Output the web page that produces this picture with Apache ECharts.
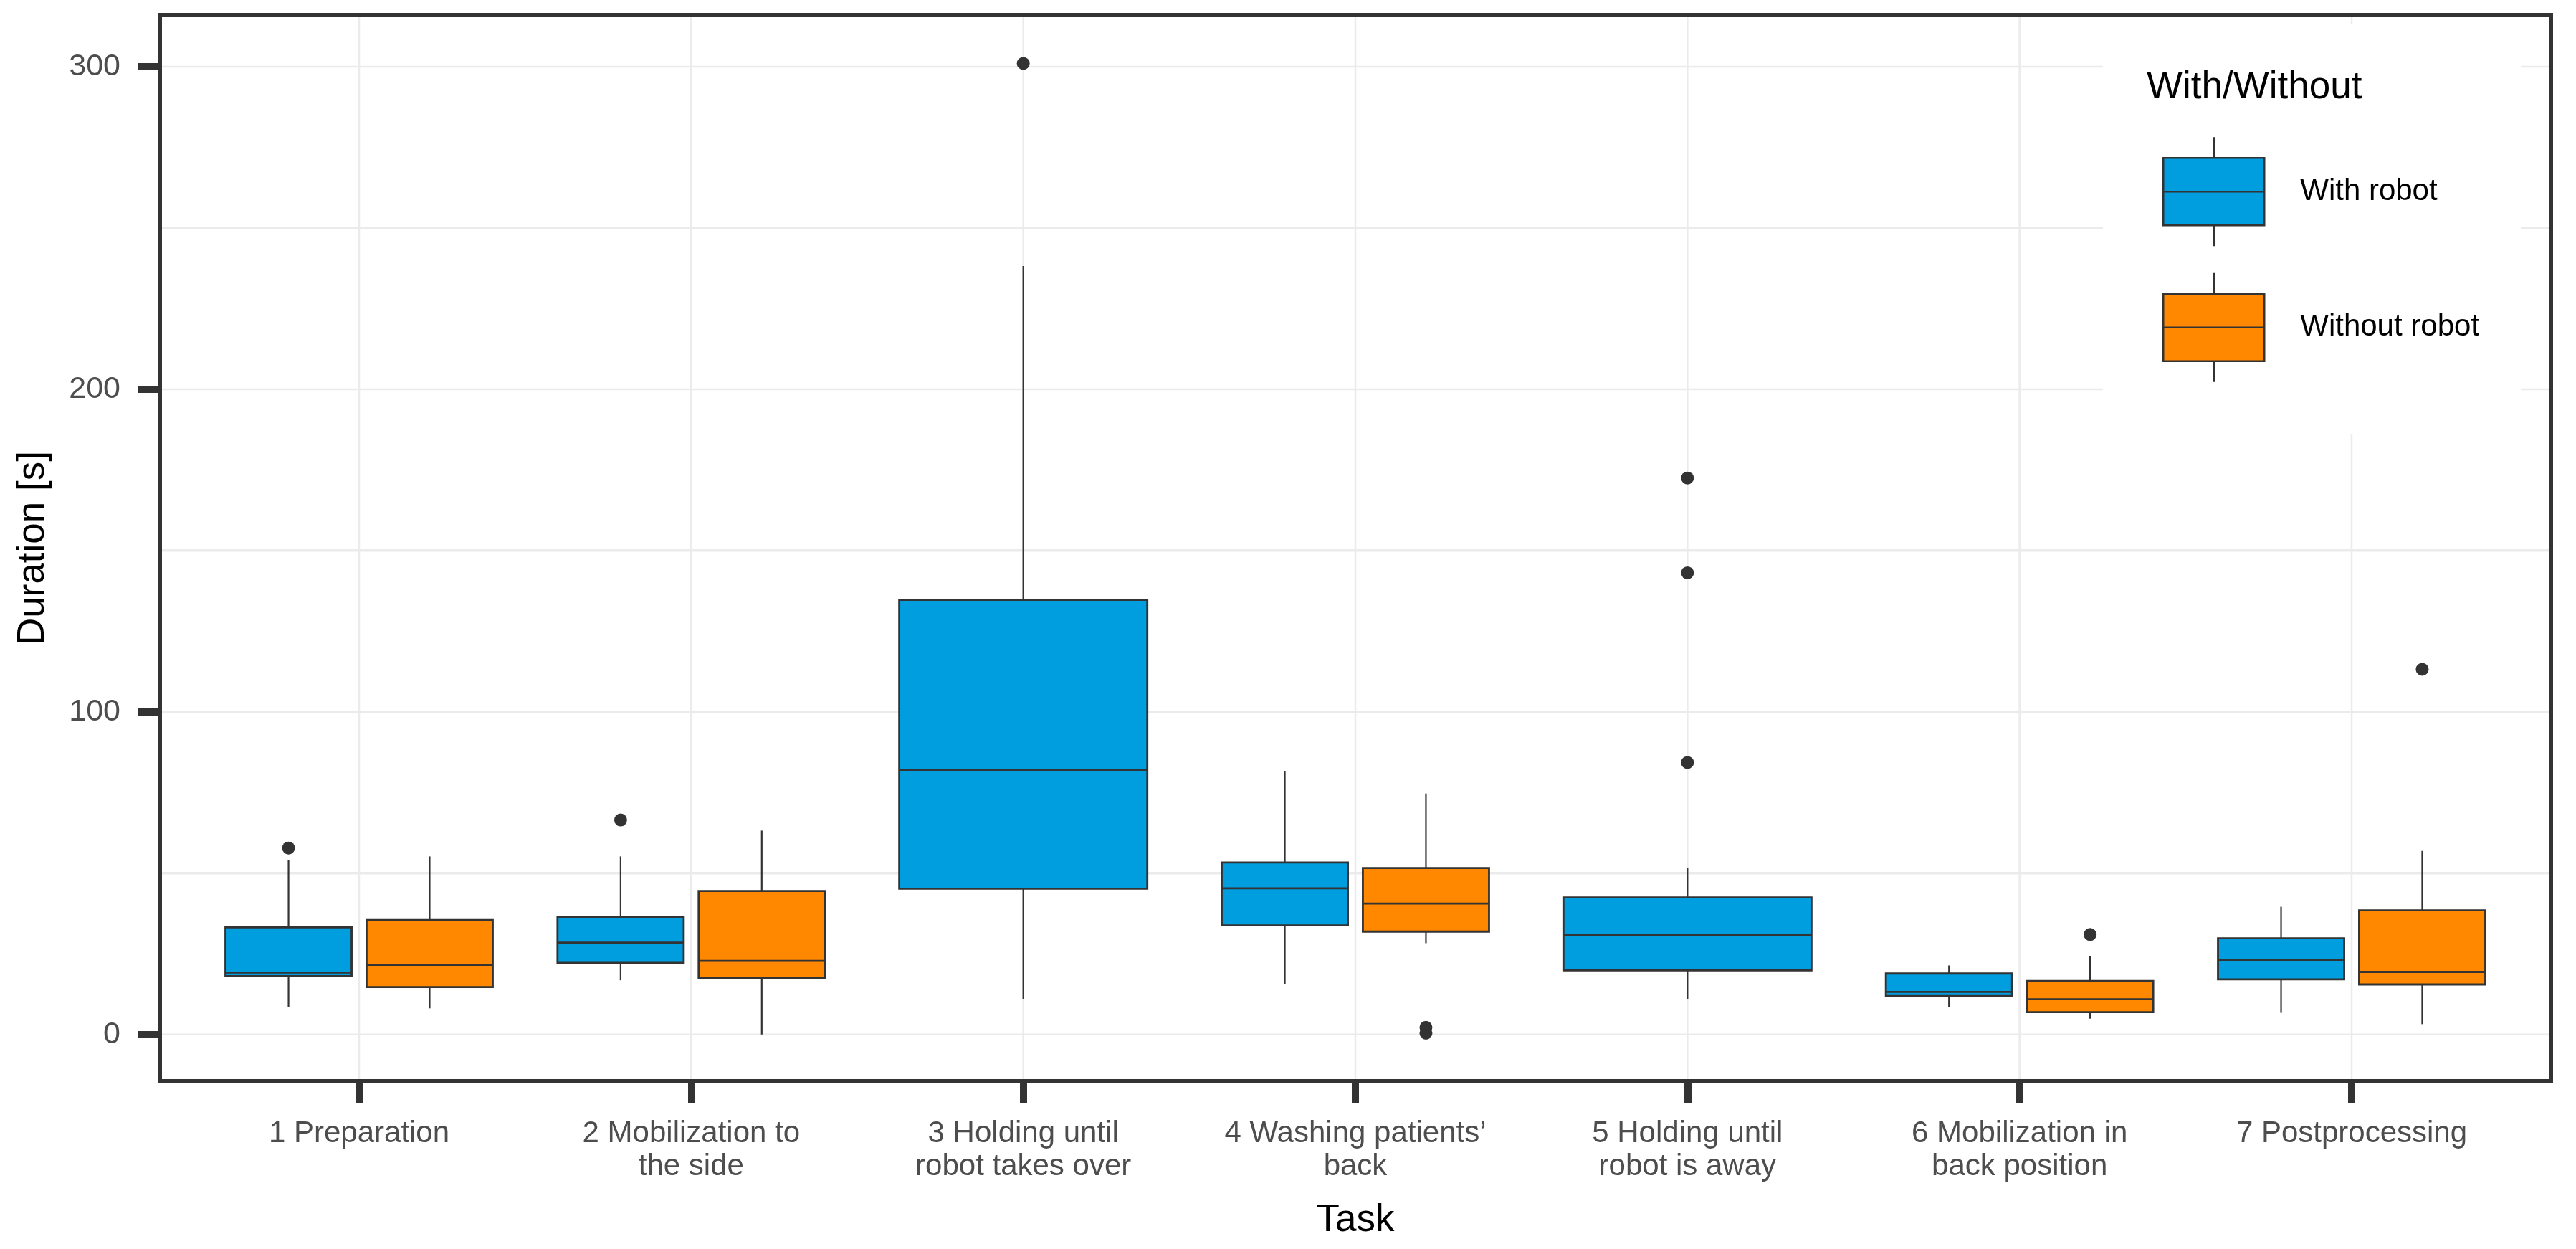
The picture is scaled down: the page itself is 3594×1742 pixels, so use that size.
<!DOCTYPE html>
<html>
<head>
<meta charset="utf-8">
<script src="https://cdn.jsdelivr.net/npm/echarts@6.0.0/dist/echarts.min.js"></script>
<style>
html,body{margin:0;padding:0;background:#fff;}
#chart{width:3594px;height:1742px;}
</style>
</head>
<body>
<div id="chart"></div>
<script>
// ---- data ----
const tasks = ['1 Preparation', '2 Mobilization to\nthe side', '3 Holding until\nrobot takes over',
  '4 Washing patients’\nback', '5 Holding until\nrobot is away', '6 Mobilization in\nback position', '7 Postprocessing'];
const groups = ['With robot', 'Without robot'];
// [lower whisker, Q1, median, Q3, upper whisker]
const withRobot = [
  [8.6, 18.1, 19.2, 33.2, 54.0],
  [16.8, 22.2, 28.5, 36.5, 55.2],
  [11.0, 45.2, 82.0, 134.7, 238.2],
  [15.6, 33.8, 45.3, 53.3, 81.7],
  [11.0, 19.9, 30.8, 42.5, 51.6],
  [8.4, 11.9, 13.2, 18.9, 21.4],
  [6.7, 17.1, 23.0, 29.8, 39.6]
];
const withoutRobot = [
  [8.1, 14.7, 21.6, 35.5, 55.2],
  [0.0, 17.6, 22.8, 44.5, 63.2],
  null,
  [28.3, 31.9, 40.6, 51.6, 74.7],
  null,
  [4.9, 6.9, 10.9, 16.6, 24.2],
  [3.2, 15.5, 19.4, 38.5, 56.9]
];
const withOutliers = [[57.8], [66.5], [301], [], [84.3, 143.1, 172.5], [], []];
const withoutOutliers = [[], [], [], [0.4, 2.2], [], [31.0], [113.2]];
const yTicks = [0, 100, 200, 300];
const yMinor = [50, 150, 250];
const xTicks = [1, 2, 3, 4, 5, 6, 7];

// ---- styling ----
const colors = ['#009ddf', '#ff8800'];
const lineCol = '#333333';
const gridCol = '#ebebeb';

const statsByGroup = [withRobot, withoutRobot];
const outByGroup = [withOutliers, withoutOutliers];

function boxRender(g) {
  return function (params, api) {
    const task = api.value(0);
    const i = task - 1;
    const s = statsByGroup[g][i];
    const paired = withRobot[i] && withoutRobot[i];
    const unit = api.size([1, 0])[0];
    const w = (paired ? 0.38 : 0.747) * unit;
    const off = paired ? (g === 0 ? -0.2125 : 0.2125) : 0;
    const cx = api.coord([task + off, 0])[0];
    const y = s.map(v => api.coord([task, v])[1]);
    const children = [];
    children.push({type: 'line', shape: {x1: cx, y1: y[3], x2: cx, y2: y[4]}, style: {stroke: lineCol, lineWidth: 2.2}});
    children.push({type: 'line', shape: {x1: cx, y1: y[1], x2: cx, y2: y[0]}, style: {stroke: lineCol, lineWidth: 2.2}});
    children.push({type: 'rect', shape: {x: cx - w / 2, y: y[3], width: w, height: y[1] - y[3]},
      style: {fill: colors[g], stroke: lineCol, lineWidth: 2.8}});
    children.push({type: 'line', shape: {x1: cx - w / 2, y1: y[2], x2: cx + w / 2, y2: y[2]}, style: {stroke: lineCol, lineWidth: 2.8}});
    outByGroup[g][i].forEach(v => {
      const p = api.coord([task + off, v]);
      children.push({type: 'circle', shape: {cx: cx, cy: p[1], r: 9}, style: {fill: lineCol}});
    });
    return {type: 'group', children: children};
  };
}

function gridRender(isMajor, horizontal) {
  return function (params, api) {
    const cs = params.coordSys;
    const v = api.value(0);
    if (horizontal) {
      const py = api.coord([1, v])[1];
      return {type: 'line', shape: {x1: cs.x, y1: py, x2: cs.x + cs.width, y2: py},
        style: {stroke: gridCol, lineWidth: isMajor ? 2.5 : 3.5}};
    } else {
      const px = api.coord([v, 0])[0];
      return {type: 'line', shape: {x1: px, y1: cs.y, x2: px, y2: cs.y + cs.height},
        style: {stroke: gridCol, lineWidth: 2.5}};
    }
  };
}

const iconPath = 'path://M70.5 0L70.5 29M0 29L141 29L141 123L0 123ZM0 76L141 76M70.5 123L70.5 152';

const chart = echarts.init(document.getElementById('chart'), null, {renderer: 'canvas'});
chart.setOption({
  animation: false,
  backgroundColor: '#ffffff',
  textStyle: {fontFamily: 'Liberation Sans, Arial, sans-serif'},
  grid: {left: 223, right: 35, top: 21, bottom: 234, show: true, borderColor: lineCol, borderWidth: 6, backgroundColor: 'transparent', z: 3},
  title: {
    text: 'With/Without', left: 2995, top: 96, padding: 0,
    textStyle: {fontSize: 53, fontWeight: 'normal', color: '#000', fontFamily: 'Liberation Sans, Arial, sans-serif'}
  },
  legend: {
    orient: 'vertical', left: 2934, top: 34,
    padding: [156, 58, 71, 83],
    backgroundColor: '#ffffff',
    itemWidth: 141, itemHeight: 152, itemGap: 35,
    selectedMode: false,
    textStyle: {fontSize: 42, color: '#000', padding: [0, 0, 0, 45], fontFamily: 'Liberation Sans, Arial, sans-serif'},
    data: groups.map((n, g) => ({
      name: n, icon: iconPath,
      itemStyle: {color: colors[g], borderColor: lineCol, borderWidth: 2.5}
    }))
  },
  xAxis: {
    type: 'value', min: 0.4, max: 7.6,
    name: 'Task', nameLocation: 'middle', nameGap: 168,
    nameTextStyle: {fontSize: 53, color: '#000'},
    axisLine: {show: false, onZero: false},
    axisTick: {show: true, length: 30, lineStyle: {color: lineCol, width: 10}, customValues: xTicks},
    axisLabel: {
      customValues: xTicks, margin: 50, fontSize: 42, color: '#4d4d4d', lineHeight: 46,
      formatter: v => tasks[Math.round(v) - 1]
    },
    splitLine: {show: false}
  },
  yAxis: {
    type: 'value', min: -14.5, max: 316,
    name: 'Duration [s]', nameLocation: 'middle', nameGap: 150,
    nameTextStyle: {fontSize: 53, color: '#000'},
    axisLine: {show: false, onZero: false},
    axisTick: {show: true, length: 30, lineStyle: {color: lineCol, width: 10}, customValues: yTicks},
    axisLabel: {customValues: yTicks, margin: 55, fontSize: 43, color: '#4d4d4d'},
    splitLine: {show: false}
  },
  series: [
    {type: 'custom', name: 'gridMinor', silent: true, z: 0, data: yMinor.map(v => [v]), encode: {y: 0}, renderItem: gridRender(false, true)},
    {type: 'custom', name: 'gridMajor', silent: true, z: 0, data: yTicks.map(v => [v]), encode: {y: 0}, renderItem: gridRender(true, true)},
    {type: 'custom', name: 'gridX', silent: true, z: 0, data: xTicks.map(v => [v]), encode: {x: 0}, renderItem: gridRender(true, false)},
    {
      type: 'custom', name: groups[0], z: 2,
      itemStyle: {color: colors[0], borderColor: lineCol},
      data: withRobot.map((s, i) => s ? [i + 1].concat(s) : null).filter(d => d),
      encode: {x: 0, y: [1, 2, 3, 4, 5]},
      renderItem: boxRender(0)
    },
    {
      type: 'custom', name: groups[1], z: 2,
      itemStyle: {color: colors[1], borderColor: lineCol},
      data: withoutRobot.map((s, i) => s ? [i + 1].concat(s) : null).filter(d => d),
      encode: {x: 0, y: [1, 2, 3, 4, 5]},
      renderItem: boxRender(1)
    }
  ]
});
</script>
</body>
</html>
